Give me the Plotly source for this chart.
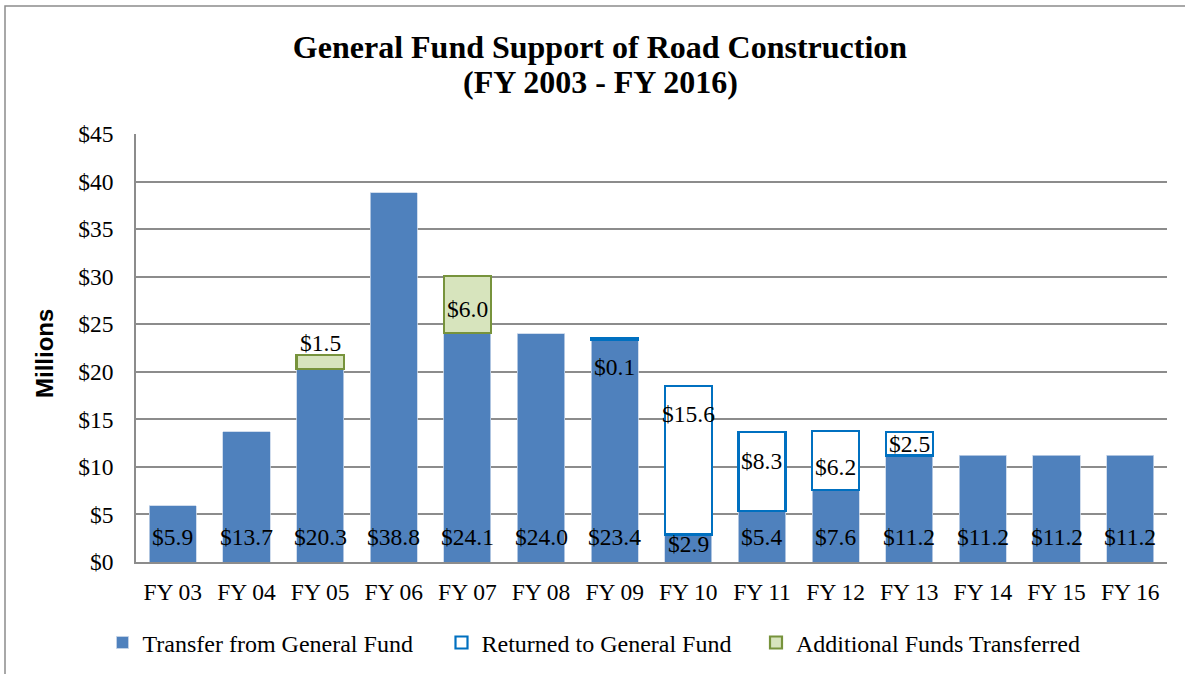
import plotly.graph_objects as go

categories = ["FY 03", "FY 04", "FY 05", "FY 06", "FY 07", "FY 08", "FY 09",
              "FY 10", "FY 11", "FY 12", "FY 13", "FY 14", "FY 15", "FY 16"]
transfer = [5.9, 13.7, 20.3, 38.8, 24.1, 24.0, 23.4, 2.9, 5.4, 7.6, 11.2, 11.2, 11.2, 11.2]
returned = [None, None, None, None, None, None, 0.1, 15.6, 8.3, 6.2, 2.5, None, None, None]
additional = [None, None, 1.5, None, 6.0, None, None, None, None, None, None, None, None, None]

# label pixel nudges (style only)
tr_shift = [10, 10, 10, 10, 10, 10, 10, 3, 10, 10, 10, 10, 10, 10]
ret_shift = [0, 0, 0, 0, 0, 0, -28, 46, 10, -7, 0, 0, 0, 0]
add_shift = [0, 0, 19, 0, -5, 0, 0, 0, 0, 0, 0, 0, 0, 0]

SERIF = "Liberation Serif, Times New Roman, serif"
BLUE = "#4F81BD"
GRID = "#8C8C8C"
FS = 23.5

fig = go.Figure()
fig.add_trace(go.Bar(x=categories, y=transfer, name="Transfer from General Fund",
                     marker=dict(color=BLUE, line=dict(color="#C6D4E8", width=0.8)),
                     legend="legend", showlegend=True))
fig.add_trace(go.Bar(x=categories, y=returned, name="Returned to General Fund",
                     marker=dict(color="white", line=dict(color="#0070C0", width=2.2)),
                     legend="legend2", showlegend=True))
fig.add_trace(go.Bar(x=categories, y=additional, name="Additional Funds Transferred",
                     marker=dict(color="#D7E4BD", line=dict(color="#77933C", width=2.2)),
                     legend="legend3", showlegend=True))

lab_font = dict(family=SERIF, size=FS, color="black")
ann = []
for c, t, s in zip(categories, transfer, tr_shift):
    ann.append(dict(x=c, y=0, yref="y", xref="x", text=f"${t:.1f}", showarrow=False,
                    yanchor="bottom", yshift=s, font=lab_font))
for c, t, r, s in zip(categories, transfer, returned, ret_shift):
    if r:
        ann.append(dict(x=c, y=t + r / 2, xref="x", yref="y", text=f"${r:.1f}", showarrow=False,
                        yanchor="middle", yshift=s, font=lab_font))
for c, t, a, s in zip(categories, transfer, additional, add_shift):
    if a:
        ann.append(dict(x=c, y=t + a / 2, xref="x", yref="y", text=f"${a:.1f}", showarrow=False,
                        yanchor="middle", yshift=s, font=lab_font))
ann.append(dict(x=(44 - 136) / 1031, y=(562 - 354) / 428, xref="paper", yref="paper",
                text="<b>Millions</b>", textangle=-90, showarrow=False,
                xanchor="center", yanchor="middle",
                font=dict(family="Liberation Sans, Arial, sans-serif", size=24, color="black")))
# second title line
ann.append(dict(x=(600 - 136) / 1031, y=(562 - 82) / 428, xref="paper", yref="paper",
                text="<b>(FY 2003 - FY 2016)</b>", showarrow=False, yanchor="middle",
                xanchor="center", font=dict(family=SERIF, size=32, color="black")))

leg_common = dict(y=-0.189, xanchor="left", yanchor="middle", orientation="h",
                  font=dict(family=SERIF, size=24, color="black"),
                  bgcolor="rgba(0,0,0,0)", itemwidth=30)

fig.update_layout(
    width=1185, height=674,
    margin=dict(l=136, r=18, t=134, b=112, autoexpand=False),
    paper_bgcolor="white", plot_bgcolor="white",
    barmode="stack", bargap=0.36, showlegend=True,
    title=dict(text="<b>General Fund Support of Road Construction</b>",
               x=600 / 1185, xanchor="center", y=1 - 47 / 674, yanchor="middle",
               font=dict(family=SERIF, size=32, color="black")),
    font=dict(family=SERIF, size=FS, color="black"),
    xaxis=dict(showline=True, linecolor=GRID, linewidth=1.5, ticks="",
               ticklabelstandoff=8, tickfont=lab_font),
    yaxis=dict(range=[0, 45], dtick=5, tickprefix="$", showgrid=True, gridcolor=GRID,
               gridwidth=1.5, showline=True, linecolor=GRID, linewidth=1.5, zeroline=False,
               ticklabelstandoff=16, tickfont=lab_font),
    annotations=ann,
    legend=dict(x=(102.5 - 136) / 1031, **leg_common),
    legend2=dict(x=(441.5 - 136) / 1031, **leg_common),
    legend3=dict(x=(756 - 136) / 1031, **leg_common),
    shapes=[dict(type="rect", xref="paper", yref="paper", x0=(5 - 136) / 1031, x1=1.2,
                 y0=-0.6, y1=(562 - 6) / 428,
                 line=dict(color="#8C8C8C", width=1.5), fillcolor="rgba(0,0,0,0)", layer="below")],
)

fig.write_html("out.html", config={"displayModeBar": False},
               post_script="document.body.style.margin='0px';document.body.style.padding='0px';")
